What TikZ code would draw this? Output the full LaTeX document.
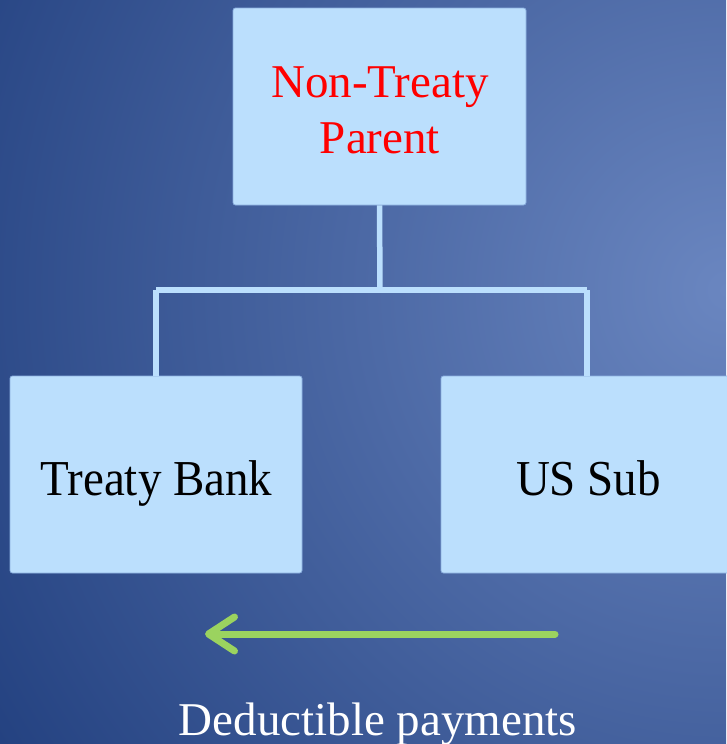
\documentclass[tikz,border=0pt]{standalone}
\usepackage{fontspec}
\setmainfont{Liberation Serif}
\usetikzlibrary{arrows.meta}
\definecolor{bgin}{HTML}{6A86C0}
\definecolor{bgout}{HTML}{22407F}
\definecolor{boxfill}{HTML}{BBDFFD}
\definecolor{boxedge}{HTML}{8CB0E0}
\definecolor{arrowgreen}{HTML}{9BD35F}
\tikzset{
  orgbox/.style={draw=boxedge, line width=0.8pt, fill=boxfill, rounded corners=2.5pt,
    minimum width=292pt, minimum height=197pt, inner sep=0pt},
  boxtext/.style={anchor=base, inner sep=0pt, font=\fontsize{47}{56}\selectfont},
  link/.style={draw=boxfill, line width=5.5pt},
  payarrow/.style={draw=arrowgreen, line width=7pt, line cap=round,
    -{Straight Barb[length=26pt,width=34pt,round]}}
}
\begin{document}
\begin{tikzpicture}[x=1pt,y=-1pt]
  \useasboundingbox (0,0) rectangle (726,744);
  \begin{scope}
    \clip (0,0) rectangle (726,744);
    \shade[inner color=bgin, outer color=bgout] (726,290) circle (880);
  \end{scope}
  % boxes
  \node[orgbox, minimum width=293pt] (parent) at (379.5,106.5) {};
  \node[orgbox] (bank) at (156,474.5) {};
  \node[orgbox] (sub) at (587,474.5) {};
  % texts
  \node[boxtext, text=red, align=center] (parenttxt) at (380,97) {Non-Treaty};
  \node[boxtext, text=red] (parenttxt2) at (380,153) {Parent};
  \node[boxtext] (banktxt) at (156.5,495) {\scalebox{1}[1.07]{Treaty Bank}};
  \node[boxtext] (subtxt) at (588.5,495) {\scalebox{1}[1.07]{US Sub}};
  \node[boxtext, text=white] (paytxt) at (378,735) {Deductible payments};
  % connectors
  \coordinate (bus) at (380,290);
  \path[link] (parent.south) -- (bus);
  \path[link] (bank.north |- bus) -- (sub.north |- bus);
  \path[link] (bank.north |- bus) -- (bank.north);
  \path[link] (sub.north |- bus) -- (sub.north);
  % arrow
  \coordinate (arrstart) at (555,634);
  \coordinate (arrend) at (205,634);
  \path[payarrow] (arrstart) -- (arrend);
\end{tikzpicture}
\end{document}
